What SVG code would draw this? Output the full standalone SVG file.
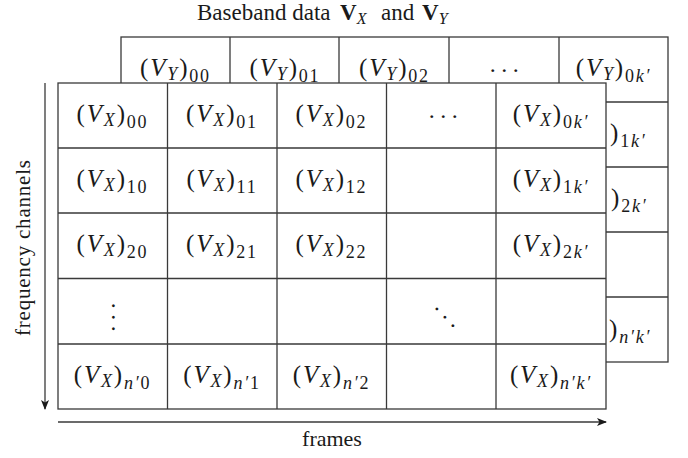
<svg xmlns="http://www.w3.org/2000/svg" width="688" height="458" viewBox="0 0 688 458">
<defs>
<style>
text{font-family:"Liberation Serif","Times New Roman",serif;fill:#1a1a1a}
.ln{stroke:#3a3a3a;stroke-width:1.3;fill:none}
.box{stroke:#3a3a3a;stroke-width:1.3;fill:#fff}
.m{font-size:25px;letter-spacing:1.8px}
.i{font-style:italic}
.s{font-size:18px}
.d{font-size:24px;letter-spacing:5.5px}
</style>
<marker id="ah" viewBox="0 0 10 8" refX="9" refY="4" markerWidth="10" markerHeight="8" markerUnits="userSpaceOnUse" orient="auto">
<path d="M0,0 L10,4 L0,8 L2.5,4 z" fill="#1a1a1a"/>
</marker>
</defs>

<text id="title" y="20" font-size="23"><tspan x="197">Baseband data</tspan><tspan x="340" font-weight="bold">V</tspan><tspan class="i" font-size="16" dy="4">X</tspan><tspan x="381" dy="-4">and</tspan><tspan x="422" font-weight="bold">V</tspan><tspan class="i" font-size="16" dy="4">Y</tspan></text>

<g id="back-grid">
<rect class="box" x="121" y="37" width="547" height="325"/>
<path class="ln" d="M230,37V362M339,37V362M449,37V362M559,37V362M121,102H668M121,167H668M121,232H668M121,297H668"/>
<text class="m" x="175.5" y="76" text-anchor="middle">(<tspan class="i">V</tspan><tspan class="i s" dy="4">Y</tspan><tspan dy="-4">)</tspan><tspan class="s" dy="6">00</tspan></text>
<text class="m" x="285" y="76" text-anchor="middle">(<tspan class="i">V</tspan><tspan class="i s" dy="4">Y</tspan><tspan dy="-4">)</tspan><tspan class="s" dy="6">01</tspan></text>
<text class="m" x="394.5" y="76" text-anchor="middle">(<tspan class="i">V</tspan><tspan class="i s" dy="4">Y</tspan><tspan dy="-4">)</tspan><tspan class="s" dy="6">02</tspan></text>
<text class="d" x="507" y="72" text-anchor="middle">...</text>
<text class="m" x="613.5" y="76" text-anchor="middle">(<tspan class="i">V</tspan><tspan class="i s" dy="4">Y</tspan><tspan dy="-4">)</tspan><tspan class="s" dy="6">0<tspan class="i">k′</tspan></tspan></text>
<text class="m" x="610" y="141">)<tspan class="s" dy="6">1<tspan class="i">k′</tspan></tspan></text>
<text class="m" x="611" y="206">)<tspan class="s" dy="6">2<tspan class="i">k′</tspan></tspan></text>
<text class="m" x="609" y="337">)<tspan class="s i" dy="6">n′k′</tspan></text>
</g>

<g id="front-grid">
<rect class="box" x="58" y="83" width="548" height="326"/>
<path class="ln" d="M167.5,83V409M277,83V409M386.5,83V409M496,83V409M58,148H606M58,213H606M58,278.5H606M58,344H606"/>
<text class="m" x="112.5" y="122" text-anchor="middle">(<tspan class="i">V</tspan><tspan class="i s" dy="4">X</tspan><tspan dy="-4">)</tspan><tspan class="s" dy="6">00</tspan></text>
<text class="m" x="222" y="122" text-anchor="middle">(<tspan class="i">V</tspan><tspan class="i s" dy="4">X</tspan><tspan dy="-4">)</tspan><tspan class="s" dy="6">01</tspan></text>
<text class="m" x="331.5" y="122" text-anchor="middle">(<tspan class="i">V</tspan><tspan class="i s" dy="4">X</tspan><tspan dy="-4">)</tspan><tspan class="s" dy="6">02</tspan></text>
<text class="d" x="446" y="118" text-anchor="middle">...</text>
<text class="m" x="551" y="122" text-anchor="middle">(<tspan class="i">V</tspan><tspan class="i s" dy="4">X</tspan><tspan dy="-4">)</tspan><tspan class="s" dy="6">0<tspan class="i">k′</tspan></tspan></text>

<text class="m" x="112.5" y="187" text-anchor="middle">(<tspan class="i">V</tspan><tspan class="i s" dy="4">X</tspan><tspan dy="-4">)</tspan><tspan class="s" dy="6">10</tspan></text>
<text class="m" x="222" y="187" text-anchor="middle">(<tspan class="i">V</tspan><tspan class="i s" dy="4">X</tspan><tspan dy="-4">)</tspan><tspan class="s" dy="6">11</tspan></text>
<text class="m" x="331.5" y="187" text-anchor="middle">(<tspan class="i">V</tspan><tspan class="i s" dy="4">X</tspan><tspan dy="-4">)</tspan><tspan class="s" dy="6">12</tspan></text>
<text class="m" x="551" y="187" text-anchor="middle">(<tspan class="i">V</tspan><tspan class="i s" dy="4">X</tspan><tspan dy="-4">)</tspan><tspan class="s" dy="6">1<tspan class="i">k′</tspan></tspan></text>

<text class="m" x="112.5" y="252" text-anchor="middle">(<tspan class="i">V</tspan><tspan class="i s" dy="4">X</tspan><tspan dy="-4">)</tspan><tspan class="s" dy="6">20</tspan></text>
<text class="m" x="222" y="252" text-anchor="middle">(<tspan class="i">V</tspan><tspan class="i s" dy="4">X</tspan><tspan dy="-4">)</tspan><tspan class="s" dy="6">21</tspan></text>
<text class="m" x="331.5" y="252" text-anchor="middle">(<tspan class="i">V</tspan><tspan class="i s" dy="4">X</tspan><tspan dy="-4">)</tspan><tspan class="s" dy="6">22</tspan></text>
<text class="m" x="551" y="252" text-anchor="middle">(<tspan class="i">V</tspan><tspan class="i s" dy="4">X</tspan><tspan dy="-4">)</tspan><tspan class="s" dy="6">2<tspan class="i">k′</tspan></tspan></text>

<text class="d" transform="translate(112,320) rotate(90)" text-anchor="middle">...</text>
<text class="d" transform="translate(446,320) rotate(46)" text-anchor="middle">...</text>

<text class="m" x="112.5" y="383" text-anchor="middle">(<tspan class="i">V</tspan><tspan class="i s" dy="4">X</tspan><tspan dy="-4">)</tspan><tspan class="s" dy="6"><tspan class="i">n′</tspan>0</tspan></text>
<text class="m" x="222" y="383" text-anchor="middle">(<tspan class="i">V</tspan><tspan class="i s" dy="4">X</tspan><tspan dy="-4">)</tspan><tspan class="s" dy="6"><tspan class="i">n′</tspan>1</tspan></text>
<text class="m" x="331.5" y="383" text-anchor="middle">(<tspan class="i">V</tspan><tspan class="i s" dy="4">X</tspan><tspan dy="-4">)</tspan><tspan class="s" dy="6"><tspan class="i">n′</tspan>2</tspan></text>
<text class="m" x="551" y="383" text-anchor="middle">(<tspan class="i">V</tspan><tspan class="i s" dy="4">X</tspan><tspan dy="-4">)</tspan><tspan class="s i" dy="6">n′k′</tspan></text>
</g>

<g id="connectors">
<line class="ln" x1="45" y1="83" x2="45" y2="409" marker-end="url(#ah)"/>
<line class="ln" x1="58" y1="422" x2="606" y2="422" marker-end="url(#ah)"/>
</g>

<text id="freq-label" font-size="21" transform="translate(30,248) rotate(-90)" text-anchor="middle" textLength="176" lengthAdjust="spacing">frequency channels</text>
<text id="frames-label" font-size="22" x="332" y="446" text-anchor="middle">frames</text>
</svg>
